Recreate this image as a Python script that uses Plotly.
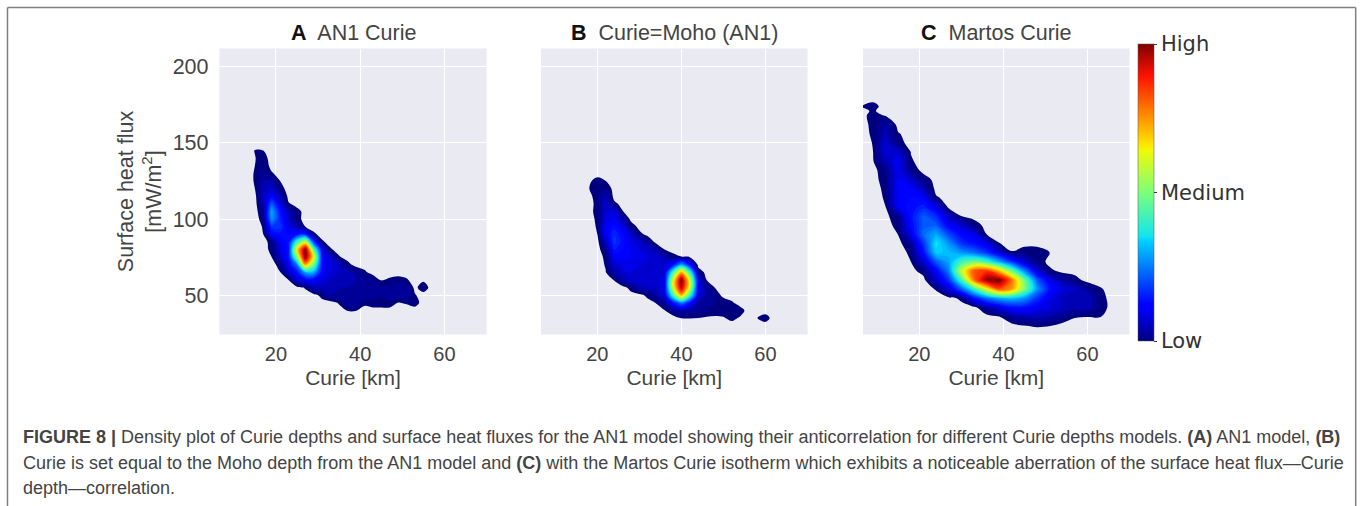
import plotly.graph_objects as go

W, H = 1360, 506

# Panel A: density (percent of peak)
a_x = [13,15,17,19,21,23,25,27,29,31,33,35,37,39,41,43,45,47,49,51,53,55,57]
a_y = [150,145,140,135,130,125,120,115,110,105,100,95,90,85,80,75,70,65,60,55,50,45,40,35]
a_z = [
 [0,0,0,0,0,0,0,0,0,0,0,0,0,0,0,0,0,0,0,0,0,0,0],
 [0,1.1,1,0,0,0,0,0,0,0,0,0,0,0,0,0,0,0,0,0,0,0,0],
 [0,.9,2,0,0,0,0,0,0,0,0,0,0,0,0,0,0,0,0,0,0,0,0],
 [0,1,3,0,0,0,0,0,0,0,0,0,0,0,0,0,0,0,0,0,0,0,0],
 [0,1.2,4,1.3,0,0,0,0,0,0,0,0,0,0,0,0,0,0,0,0,0,0,0],
 [0,1.2,5,5,1,0,0,0,0,0,0,0,0,0,0,0,0,0,0,0,0,0,0],
 [0,1,6,8,2,0,0,0,0,0,0,0,0,0,0,0,0,0,0,0,0,0,0],
 [0,0,7,12,6,0,0,0,0,0,0,0,0,0,0,0,0,0,0,0,0,0,0],
 [0,0,5,22,10,1.3,0,0,0,0,0,0,0,0,0,0,0,0,0,0,0,0,0],
 [0,0,3,30,14,6,2,0,0,0,0,0,0,0,0,0,0,0,0,0,0,0,0],
 [0,0,2,28,16,8,2,0,0,0,0,0,0,0,0,0,0,0,0,0,0,0,0],
 [0,0,1.2,18,18,10,6,1,0,0,0,0,0,0,0,0,0,0,0,0,0,0,0],
 [0,0,1,12,14,13,14,16,1.5,0,0,0,0,0,0,0,0,0,0,0,0,0,0],
 [0,0,0,2,11,14,42,60,18,1.4,0,0,0,0,0,0,0,0,0,0,0,0,0],
 [0,0,0,1.7,9,14,65,100,45,10,1.3,0,0,0,0,0,0,0,0,0,0,0,0],
 [0,0,0,1,7,14,50,100,62,12,8,1.3,0,0,0,0,0,0,0,0,0,0,0],
 [0,0,0,0,2,11,25,72,48,13,9,7,2,0,0,0,0,0,0,0,0,0,0],
 [0,0,0,0,.9,7,14,30,30,12,9,7,6,4,1.5,0,0,0,0,0,0,0,0],
 [0,0,0,0,0,1,8,12,12,9,7,6,6,5,4,3,.8,1.4,2,1.3,0,.6,0],
 [0,0,0,0,0,0,0,1.3,6,6,6,5,5,5,4,4,3,4,5,4,.3,2.4,0],
 [0,0,0,0,0,0,0,0,0,2,5,5,5,5,4,4,3,4,4,5,1.2,0,0],
 [0,0,0,0,0,0,0,0,0,0,0,1.3,5,5,1.67,2.5,2.5,2.5,.9,1.25,2,0,0],
 [0,0,0,0,0,0,0,0,0,0,0,0,1.1,1.1,0,0,0,0,0,0,0,0,0],
 [0,0,0,0,0,0,0,0,0,0,0,0,0,0,0,0,0,0,0,0,0,0,0],
]

# Panel B
b_x = [16,18,20,22,24,26,28,30,32,34,36,38,40,42,44,46,48,50,52,54,56,58,60,62]
b_y = [130,125,120,115,110,105,100,95,90,85,80,75,70,65,60,55,50,45,40,35,30]
b_z = [
 [0,0,0,0,0,0,0,0,0,0,0,0,0,0,0,0,0,0,0,0,0,0,0,0],
 [0,.5,2,1,0,0,0,0,0,0,0,0,0,0,0,0,0,0,0,0,0,0,0,0],
 [0,.9,3,3,0,0,0,0,0,0,0,0,0,0,0,0,0,0,0,0,0,0,0,0],
 [0,0,2.5,6,0,0,0,0,0,0,0,0,0,0,0,0,0,0,0,0,0,0,0,0],
 [0,0,1.8,8,1.8,0,0,0,0,0,0,0,0,0,0,0,0,0,0,0,0,0,0,0],
 [0,0,2,8,9,1.1,0,0,0,0,0,0,0,0,0,0,0,0,0,0,0,0,0,0],
 [0,0,1.5,10,11,6,0,0,0,0,0,0,0,0,0,0,0,0,0,0,0,0,0,0],
 [0,0,1.25,11,14,10,3,0,0,0,0,0,0,0,0,0,0,0,0,0,0,0,0,0],
 [0,0,1,11,17,13,8,2,0,0,0,0,0,0,0,0,0,0,0,0,0,0,0,0],
 [0,0,0,6.7,18,14,10,8,4,0,0,0,0,0,0,0,0,0,0,0,0,0,0,0],
 [0,0,0,2.9,15,13,11,9,8,5,1,0,0,0,0,0,0,0,0,0,0,0,0,0],
 [0,0,0,1.5,11,12,11,10,9,8,6,2,1.1,1,0,0,0,0,0,0,0,0,0,0],
 [0,0,0,1.2,8,10,10,9,9,9,8,14,30,14,0,0,0,0,0,0,0,0,0,0],
 [0,0,0,.9,5,8,9,9,8,8,9,42,72,42,3,0,0,0,0,0,0,0,0,0],
 [0,0,0,0,1.1,5,8,8,8,8,10,60,100,60,10,1,0,0,0,0,0,0,0,0],
 [0,0,0,0,0,0,2,6,7,7,10,60,96,60,10,4,.9,0,0,0,0,0,0,0],
 [0,0,0,0,0,0,0,0,1.8,5,9,42,72,42,9,4,3,0,0,0,0,0,0,0],
 [0,0,0,0,0,0,0,0,0,1.1,4,14,25,14,5,4,3,3,1.3,0,0,0,0,0],
 [0,0,0,0,0,0,0,0,0,0,.9,3,5,4,4,3,2,2,3,2,0,0,0,0],
 [0,0,0,0,0,0,0,0,0,0,0,0,1.05,1.05,1,.6,.6,.8,1.67,.7,0,.95,2,0],
 [0,0,0,0,0,0,0,0,0,0,0,0,0,0,0,0,0,0,0,0,0,0,0,0],
]

# Panel C
c_x = [6,9,12,15,18,21,24,27,30,33,36,39,42,45,48,51,54,57,60,63,66]
c_y = [180,174,171,168,162,156,150,144,138,132,126,120,114,108,102,96,90,84,78,72,66,60,54,48,42,36,30,24]
c_z = [
 [0,0,0,0,0,0,0,0,0,0,0,0,0,0,0,0,0,0,0,0,0],
 [.9,1.8,0,0,0,0,0,0,0,0,0,0,0,0,0,0,0,0,0,0,0],
 [.3,1.3,0,0,0,0,0,0,0,0,0,0,0,0,0,0,0,0,0,0,0],
 [0,2,.8,0,0,0,0,0,0,0,0,0,0,0,0,0,0,0,0,0,0],
 [0,1.6,5,0,0,0,0,0,0,0,0,0,0,0,0,0,0,0,0,0,0],
 [0,1.4,6,1.2,0,0,0,0,0,0,0,0,0,0,0,0,0,0,0,0,0],
 [0,1.1,8,2,0,0,0,0,0,0,0,0,0,0,0,0,0,0,0,0,0],
 [0,1,9,8,.9,0,0,0,0,0,0,0,0,0,0,0,0,0,0,0,0],
 [0,.8,6,11,1.3,0,0,0,0,0,0,0,0,0,0,0,0,0,0,0,0],
 [0,0,3,11,3,0,0,0,0,0,0,0,0,0,0,0,0,0,0,0,0],
 [0,0,2.3,11,8,2.5,0,0,0,0,0,0,0,0,0,0,0,0,0,0,0],
 [0,0,1.6,12,12,6,0,0,0,0,0,0,0,0,0,0,0,0,0,0,0],
 [0,0,1.3,12,13,12,1.4,0,0,0,0,0,0,0,0,0,0,0,0,0,0],
 [0,0,1,11,14,16,10,0,0,0,0,0,0,0,0,0,0,0,0,0,0],
 [0,0,0,3.75,14,22,17,7,.9,0,0,0,0,0,0,0,0,0,0,0,0],
 [0,0,0,1.9,13,22,22,12,8,2.5,0,0,0,0,0,0,0,0,0,0,0],
 [0,0,0,1.07,10,24,30,20,13,10,1,0,0,0,0,0,0,0,0,0,0],
 [0,0,0,0,3.7,18,36,28,18,14,10,1.1,0,0,0,0,0,0,0,0,0],
 [0,0,0,0,1.5,14,34,32,28,24,18,9,1.2,2.7,2.7,1,0,0,0,0,0],
 [0,0,0,0,1,8,22,30,42,48,42,30,18,8,3,0,0,0,0,0,0],
 [0,0,0,0,0,2.3,12,26,58,82,85,70,48,26,9,1.8,0,0,0,0,0],
 [0,0,0,0,0,0,7.5,18,42,78,98,100,78,48,22,10,5,2.1,0,0,0],
 [0,0,0,0,0,0,1.2,9,22,40,62,82,74,50,28,14,9,7,4,1.3,0],
 [0,0,0,0,0,0,0,0,1.6,14,24,30,32,28,18,10,7,7,7,2,0],
 [0,0,0,0,0,0,0,0,0,0,4.3,9,14,14,11,9,7,6,6,2.3,0],
 [0,0,0,0,0,0,0,0,0,0,0,1,4,6,6,5,3.5,1.2,1.05,1.1,0],
 [0,0,0,0,0,0,0,0,0,0,0,0,0,.95,1.2,1.1,0,0,0,0,0],
 [0,0,0,0,0,0,0,0,0,0,0,0,0,0,0,0,0,0,0,0,0],
]

panel_titles = ["<b style='color:#111'>A</b>  AN1 Curie", "<b style='color:#111'>B</b>  Curie=Moho (AN1)", "<b style='color:#111'>C</b>  Martos Curie"]
x_ticks = [20, 40, 60]
y_ticks = [50, 100, 150, 200]
cbar_ticks = [0, 50, 100]
cbar_labels = ["Low", "Medium", "High"]
caption = [
 "<b>FIGURE 8 |</b> Density plot of Curie depths and surface heat fluxes for the AN1 model showing their anticorrelation for different Curie depths models. <b>(A)</b> AN1 model, <b>(B)</b>",
 "Curie is set equal to the Moho depth from the AN1 model and <b>(C)</b> with the Martos Curie isotherm which exhibits a noticeable aberration of the surface heat flux—Curie",
 "depth—correlation.",
]

jet = [[0,"#00007f"],[0.11,"#0000ff"],[0.125,"#0000ff"],[0.34,"#00d4ff"],[0.35,"#0fe5f0"],[0.5,"#7cff79"],[0.64,"#f0f90a"],[0.66,"#ffe600"],[0.89,"#ff1300"],[1,"#7f0000"]]
jet_clear = [[0,"rgba(0,0,127,0)"],[0.005,"rgba(0,0,127,0)"],[0.01,"#00007f"]] + jet[1:]

FONT = "Liberation Sans"
INK = "#444444"
fig = go.Figure()

panels = [(a_x, a_y, a_z, 219.5, 486.5, ""), (b_x, b_y, b_z, 541, 807.5, "2"), (c_x, c_y, c_z, 863, 1129.5, "3")]
for (x, y, z, l, r, suf), title in zip(panels, panel_titles):
    fig.add_trace(go.Contour(
        x=x, y=y[::-1], z=z[::-1], xaxis="x"+suf, yaxis="y"+suf,
        colorscale=jet_clear, zmin=0, zmax=100, autocontour=False, showscale=False,
        contours=dict(start=1, end=101, size=2, coloring="fill", showlines=False),
        line=dict(width=0, smoothing=1.0), hoverinfo="skip",
    ))
    ax = dict(domain=[l/W, r/W], range=[6.6, 70], tickvals=x_ticks, showgrid=True, gridcolor="#ffffff", gridwidth=1,
              zeroline=False, showline=False, ticks="", ticklabelstandoff=5, tickfont=dict(family=FONT, size=20, color=INK),
              title=dict(text="Curie [km]", font=dict(family=FONT, size=21, color=INK), standoff=6),
              anchor="y"+suf, automargin=False)
    ay = dict(domain=[1-334.5/H, 1-48.5/H], range=[24.2, 212], tickvals=y_ticks, showgrid=True, gridcolor="#ffffff", gridwidth=1,
              zeroline=False, showline=False, ticks="", anchor="x"+suf, automargin=False,
              ticklabelstandoff=10, tickfont=dict(family=FONT, size=21.5, color=INK))
    if suf == "":
        ay["title"] = dict(text="Surface heat flux<br>[mW/m<sup>2</sup>]", font=dict(family=FONT, size=21.5, color=INK), standoff=5)
    else:
        ay["showticklabels"] = False
    fig.update_layout(**{"xaxis"+suf: ax, "yaxis"+suf: ay})
    fig.add_annotation(text=title, xref="paper", yref="paper", x=(l+r)/2/W, y=1-33/H, xanchor="center", yanchor="middle",
                       showarrow=False, font=dict(family=FONT, size=21.5, color=INK))

fig.add_trace(go.Scatter(
    x=[None], y=[None], xaxis="x3", yaxis="y3", mode="markers", hoverinfo="skip",
    marker=dict(color=[0], cmin=0, cmax=100, colorscale=jet, showscale=True, colorbar=dict(
        x=1138/W, xanchor="left", xpad=0, y=1-341/H, yanchor="bottom", yref="paper", len=297/H, lenmode="fraction",
        ypad=0, thickness=16, thicknessmode="pixels", outlinewidth=0.5, outlinecolor="#555555",
        tickvals=cbar_ticks, ticktext=cbar_labels, ticks="outside", ticklen=3, tickwidth=1, tickcolor="#333333",
        tickfont=dict(family="DejaVu Sans", size=21, color="#333333"))),
))

for txt, py in zip(caption, [437, 462.7, 488]):
    fig.add_annotation(text=txt, xref="paper", yref="paper", x=21/W, y=1-py/H, xanchor="left", yanchor="middle",
                       showarrow=False, align="left", font=dict(family=FONT, size=18, color="#444444"))

frame = dict(type="line", xref="paper", yref="paper", line=dict(color="#808080", width=1.5))
fig.update_layout(
    width=W, height=H, margin=dict(l=0, r=0, t=0, b=0), paper_bgcolor="#ffffff", plot_bgcolor="#eaeaf2",
    showlegend=False,
    shapes=[
        dict(frame, x0=7.5/W, x1=7.5/W, y0=0, y1=1-7.5/H),
        dict(frame, x0=7.5/W, x1=1355.7/W, y0=1-7.5/H, y1=1-7.5/H),
        dict(frame, x0=1355.7/W, x1=1355.7/W, y0=0, y1=1-7.5/H),
    ],
)
fig.write_html("out.html", config={"displayModeBar": False}, post_script="document.body.style.margin='0';")
